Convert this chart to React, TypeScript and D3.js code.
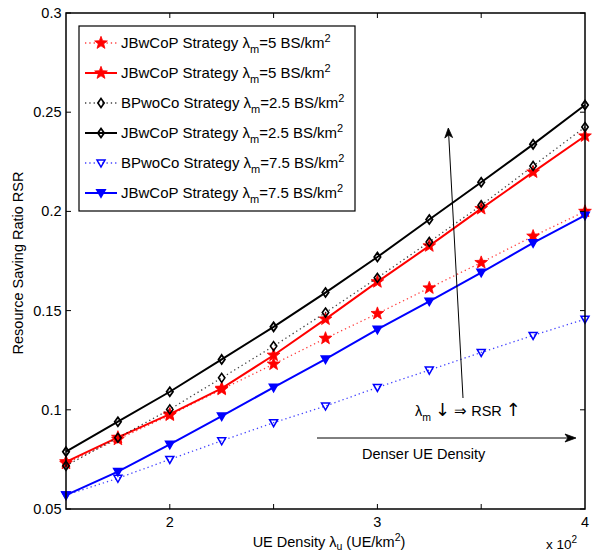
import React from "react";
import * as d3 from "d3";

const xValues = [1.5, 1.75, 2, 2.25, 2.5, 2.75, 3, 3.25, 3.5, 3.75, 4];
const redDotted = [0.073, 0.0851, 0.0973, 0.1103, 0.123, 0.136, 0.1485, 0.1614, 0.1742, 0.1875, 0.2];
const redSolid = [0.0738, 0.0861, 0.0978, 0.1108, 0.1275, 0.1457, 0.1645, 0.1826, 0.2014, 0.2198, 0.238];
const blackDotted = [0.0718, 0.0859, 0.1002, 0.1161, 0.1321, 0.149, 0.1665, 0.1846, 0.2031, 0.2229, 0.2425];
const blackSolid = [0.0789, 0.094, 0.1091, 0.1254, 0.1418, 0.1591, 0.177, 0.1959, 0.2147, 0.2338, 0.2536];
const blueDotted = [0.057, 0.0655, 0.075, 0.0844, 0.0935, 0.1019, 0.1113, 0.12, 0.1289, 0.1375, 0.1457];
const blueSolid = [0.057, 0.0688, 0.0826, 0.0968, 0.1113, 0.1255, 0.1405, 0.1547, 0.1692, 0.1841, 0.198];

const xTicks = [2, 3, 4];
const yTicks = [0.05, 0.1, 0.15, 0.2, 0.25, 0.3];

type Marker = "star" | "diamond" | "tri";
const series = [
  { name: "JBwCoP Strategy", lam: "=5 BS/km", values: redDotted, color: "#ff0000", dotted: true, marker: "star" as Marker },
  { name: "JBwCoP Strategy", lam: "=5 BS/km", values: redSolid, color: "#ff0000", dotted: false, marker: "star" as Marker },
  { name: "BPwoCo Strategy", lam: "=2.5 BS/km", values: blackDotted, color: "#000000", dotted: true, marker: "diamond" as Marker },
  { name: "JBwCoP Strategy", lam: "=2.5 BS/km", values: blackSolid, color: "#000000", dotted: false, marker: "diamond" as Marker },
  { name: "BPwoCo Strategy", lam: "=7.5 BS/km", values: blueDotted, color: "#0000ff", dotted: true, marker: "tri" as Marker },
  { name: "JBwCoP Strategy", lam: "=7.5 BS/km", values: blueSolid, color: "#0000ff", dotted: false, marker: "tri" as Marker },
];

const W = 593, H = 551;
const L = 66, R = 585, T = 13, B = 509;
const FONT = "'Liberation Sans', Arial, Helvetica, sans-serif";

function starPath(r: number) {
  const pts: string[] = [];
  for (let i = 0; i < 10; i++) {
    const rr = i % 2 === 0 ? r : r * 0.42;
    const a = -Math.PI / 2 + (i * Math.PI) / 5;
    pts.push(`${(rr * Math.cos(a)).toFixed(2)},${(rr * Math.sin(a)).toFixed(2)}`);
  }
  return "M" + pts.join("L") + "Z";
}
const diamondPath = "M0,-4.5L3.2,0L0,4.5L-3.2,0Z";
const triPath = "M-4,-3L4,-3L0,4Z";

function MarkerShape({ m, color, dotted, x, y }: { m: Marker; color: string; dotted: boolean; x: number; y: number }) {
  const tr = `translate(${x},${y})`;
  if (m === "star") return <path d={starPath(6.7)} transform={tr} fill={color} stroke={color} strokeWidth={0.8} />;
  if (m === "diamond") return <path d={diamondPath} transform={tr} fill="none" stroke={color} strokeWidth={dotted ? 1.6 : 1.8} />;
  return <path d={triPath} transform={tr} fill={dotted ? "none" : color} stroke={color} strokeWidth={dotted ? 1.5 : 1.8} />;
}

export default function App() {
  const x = d3.scaleLinear().domain([1.5, 4]).range([L, R]);
  const y = d3.scaleLinear().domain([0.05, 0.3]).range([B, T]);
  const line = d3.line<number>().x((_, i) => x(xValues[i])).y((d) => y(d));
  const allXTicks = d3.range(2, 4, 0.5);

  const legX = 79, legY = 26, legW = 276, legH = 185;
  const rowY = (i: number) => 43 + i * 30;

  return (
    <div style={{ position: "absolute", left: 0, top: 0 }}>
      <svg width={W} height={H} style={{ display: "block", background: "#fff" }} fontFamily={FONT}>
        <rect x={0} y={0} width={W} height={H} fill="#fff" />
        {series.map((s, si) => (
          <g key={si}>
            <path
              d={line(s.values) || ""}
              fill="none"
              stroke={s.color}
              strokeWidth={s.dotted ? 1.3 : 2}
              strokeDasharray={s.dotted ? "1.3,3" : undefined}
              opacity={s.dotted ? 0.75 : 1}
            />
            {s.values.map((v, i) => (
              <MarkerShape key={i} m={s.marker} color={s.color} dotted={s.dotted} x={x(xValues[i])} y={y(v)} />
            ))}
          </g>
        ))}
        <rect x={L} y={T} width={R - L} height={B - T} fill="none" stroke="#000" strokeWidth={1.5} />
        {allXTicks.map((t, i) => (
          <g key={"xt" + i}>
            <line x1={x(t)} x2={x(t)} y1={B} y2={B - 5} stroke="#000" strokeWidth={1} />
            <line x1={x(t)} x2={x(t)} y1={T} y2={T + 5} stroke="#000" strokeWidth={1} />
          </g>
        ))}
        {xTicks.map((t, i) => (
          <text key={"xl" + i} x={x(t)} y={527} fontSize={14.5} textAnchor="middle">
            {String(t)}
          </text>
        ))}
        {yTicks.map((t, i) => (
          <g key={"yt" + i}>
            <line x1={L} x2={L + 5} y1={y(t)} y2={y(t)} stroke="#000" strokeWidth={1} />
            <line x1={R} x2={R - 5} y1={y(t)} y2={y(t)} stroke="#000" strokeWidth={1} />
            <text x={61.5} y={y(t) + 5} fontSize={14.5} textAnchor="end">
              {String(t)}
            </text>
          </g>
        ))}
        <text transform={`translate(23,263) rotate(-90)`} fontSize={14.5} textAnchor="middle">
          Resource Saving Ratio RSR
        </text>
        <text x={329} y={547} fontSize={14.5} textAnchor="middle">
          UE Density λ<tspan dy={3} fontSize={10.5}>u</tspan>
          <tspan dy={-3}> (UE/km</tspan>
          <tspan dy={-6} fontSize={10.5}>2</tspan>
          <tspan dy={6}>)</tspan>
        </text>
        <text x={546} y={549} fontSize={13.5}>
          x 10<tspan dy={-6} fontSize={10}>2</tspan>
        </text>
        <rect x={legX} y={legY} width={legW} height={legH} fill="#fff" stroke="#000" strokeWidth={1.2} />
        {series.map((s, i) => (
          <g key={"lg" + i}>
            <line
              x1={85}
              x2={117}
              y1={rowY(i)}
              y2={rowY(i)}
              stroke={s.color}
              strokeWidth={s.dotted ? 1.3 : 2}
              strokeDasharray={s.dotted ? "1.3,3" : undefined}
              opacity={s.dotted ? 0.75 : 1}
            />
            <MarkerShape m={s.marker} color={s.color} dotted={s.dotted} x={101} y={rowY(i)} />
            <text x={121} y={rowY(i) + 5} fontSize={15}>
              {s.name} λ<tspan dy={5} fontSize={11}>m</tspan>
              <tspan dy={-5}>{s.lam}</tspan>
              <tspan dy={-6} fontSize={11}>2</tspan>
            </text>
          </g>
        ))}
        <line x1={463} y1={398} x2={448.6} y2={133} stroke="#000" strokeWidth={1} />
        <path d="M448.3,128 L444.8,138 L448.6,135 L452.6,137.6 Z" fill="#000" stroke="#000" strokeWidth={0.8} />
        <text x={415} y={416} fontSize={14.5}>
          λ<tspan dy={5} fontSize={10.5}>m</tspan>
          <tspan dy={-5}> </tspan>
          <tspan fontSize={18} fontFamily="'DejaVu Sans', sans-serif">↓</tspan>
          <tspan> ⇒ RSR </tspan>
          <tspan fontSize={18} fontFamily="'DejaVu Sans', sans-serif">↑</tspan>
        </text>
        <line x1={317} y1={438} x2={570} y2={438} stroke="#000" strokeWidth={1} />
        <path d="M576,438 L565,434 L568,438 L565,442 Z" fill="#000" stroke="#000" strokeWidth={0.8} />
        <text x={362} y={459} fontSize={14.5}>
          Denser UE Density
        </text>
      </svg>
    </div>
  );
}
